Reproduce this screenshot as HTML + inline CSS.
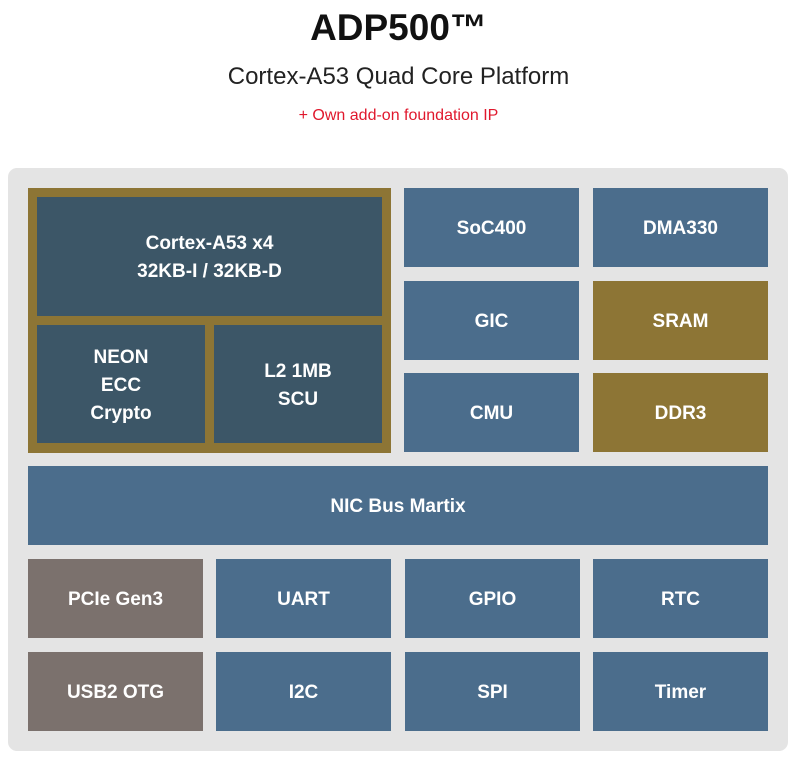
<!DOCTYPE html>
<html><head><meta charset="utf-8"><style>
body{margin:0;width:797px;height:759px;background:#fff;position:relative;font-family:"Liberation Sans",sans-serif;overflow:hidden}
.t{position:absolute;left:0;width:797px;text-align:center}
.b{position:absolute;display:flex;align-items:center;justify-content:center;text-align:center;color:#fff;font-weight:bold;font-size:19px;line-height:28px;box-sizing:border-box;padding-top:3px}
.bl{background:#4b6d8c}.dk{background:#3c5667}.gd{background:#8d7535}.gr{background:#7b716d}
</style></head><body>
<div class="t" style="top:7px;font-size:37px;font-weight:bold;color:#111">ADP500™</div>
<div class="t" style="top:63px;font-size:24px;color:#222">Cortex-A53 Quad Core Platform</div>
<div class="t" style="top:107px;font-size:16px;color:#e0182d">+ Own add-on foundation IP</div>
<div style="position:absolute;left:8px;top:168px;width:780px;height:583px;background:#e4e4e4;border-radius:9px"></div>
<div class="b gd" style="left:28px;top:188px;width:363px;height:265px"></div>
<div class="b dk" style="left:37px;top:197px;width:345px;height:119px">Cortex-A53 x4<br>32KB-I / 32KB-D</div>
<div class="b dk" style="left:37px;top:325px;width:168px;height:118px">NEON<br>ECC<br>Crypto</div>
<div class="b dk" style="left:214px;top:325px;width:168px;height:118px">L2 1MB<br>SCU</div>
<div class="b bl" style="left:404px;top:188px;width:175px;height:79px">SoC400</div>
<div class="b bl" style="left:593px;top:188px;width:175px;height:79px">DMA330</div>
<div class="b bl" style="left:404px;top:281px;width:175px;height:79px">GIC</div>
<div class="b gd" style="left:593px;top:281px;width:175px;height:79px">SRAM</div>
<div class="b bl" style="left:404px;top:373px;width:175px;height:79px">CMU</div>
<div class="b gd" style="left:593px;top:373px;width:175px;height:79px">DDR3</div>
<div class="b bl" style="left:28px;top:466px;width:740px;height:79px">NIC Bus Martix</div>
<div class="b gr" style="left:28px;top:559px;width:175px;height:79px">PCIe Gen3</div>
<div class="b bl" style="left:216px;top:559px;width:175px;height:79px">UART</div>
<div class="b bl" style="left:405px;top:559px;width:175px;height:79px">GPIO</div>
<div class="b bl" style="left:593px;top:559px;width:175px;height:79px">RTC</div>
<div class="b gr" style="left:28px;top:652px;width:175px;height:79px">USB2 OTG</div>
<div class="b bl" style="left:216px;top:652px;width:175px;height:79px">I2C</div>
<div class="b bl" style="left:405px;top:652px;width:175px;height:79px">SPI</div>
<div class="b bl" style="left:593px;top:652px;width:175px;height:79px">Timer</div>
</body></html>
